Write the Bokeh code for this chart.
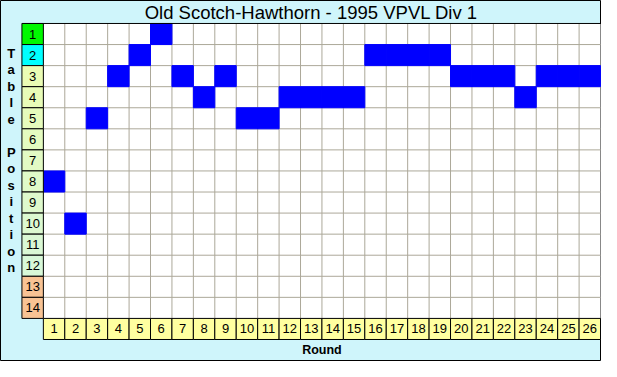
from bokeh.plotting import figure
from bokeh.models import Range1d
from bokeh.core.properties import value
from bokeh.embed import file_html
from bokeh.resources import INLINE

# ---- data ----
title_text = "Old Scotch-Hawthorn - 1995 VPVL Div 1"
y_label = "Table Position"
x_label = "Round"
rounds = list(range(1, 27))
positions = [8, 10, 5, 3, 2, 1, 3, 4, 3, 5, 5, 4, 4, 4, 4, 2, 2, 2, 2, 3, 3, 3, 4, 3, 3, 3]
table_positions = list(range(1, 15))
row_label_colors = ["#00f800", "#00ffff",
                    "#eafcb4", "#e8fcb8", "#e6fbbc", "#e4fbc0", "#e2fac4",
                    "#e0fac8", "#def9cc", "#dcf9d0", "#daf8d4", "#d8f8d8",
                    "#f8c394", "#f8c394"]

FONT = "Liberation Sans"

p = figure(width=601, height=361,
           x_range=Range1d(-1.5, 26.545), y_range=Range1d(16.545, -0.591),
           output_backend="svg", toolbar_location=None, min_border=0,
           x_axis_location=None, y_axis_location=None)
p.xgrid.visible = False
p.ygrid.visible = False
p.background_fill_color = "#cff5fb"
p.border_fill_color = "#cff5fb"
p.outline_line_color = "black"
p.outline_line_width = 1

n_r = len(rounds)
n_p = len(table_positions)

# white plotting area
p.quad(left=[0.5], right=[n_r + 0.5], top=[0.5], bottom=[n_p + 0.5],
       fill_color="white", line_color=None)

# grid lines
vx = [r + 0.5 for r in rounds[:-1]]
p.segment(x0=vx, x1=vx, y0=[0.5] * len(vx), y1=[n_p + 0.5] * len(vx),
          line_color="#aca899", line_width=1)
hy = [t + 0.5 for t in table_positions[:-1]]
p.segment(x0=[0.5] * len(hy), x1=[n_r + 0.5] * len(hy), y0=hy, y1=hy,
          line_color="#aca899", line_width=1)

# position cells
p.rect(x=rounds, y=positions, width=1, height=1,
       fill_color="#0000ff", line_color="#0000ff", line_width=1)

# title separator
p.segment(x0=[-0.5], x1=[n_r + 1], y0=[0.5], y1=[0.5], line_color="black", line_width=1)

# row label cells
p.rect(x=[0] * n_p, y=table_positions, width=1, height=1,
       fill_color=row_label_colors, line_color="black", line_width=1)
p.text(x=[0] * n_p, y=table_positions, text=[str(t) for t in table_positions],
       text_align="center", text_baseline="middle",
       text_font=value(FONT), text_font_size="13px", text_color="black")

# round label cells
p.rect(x=rounds, y=[n_p + 1] * n_r, width=1, height=1,
       fill_color="#ffffa0", line_color="black", line_width=1)
p.text(x=rounds, y=[n_p + 1] * n_r, text=[str(r) for r in rounds],
       text_align="center", text_baseline="middle",
       text_font=value(FONT), text_font_size="13px", text_color="black")

# title
p.text(x=[(n_r) / 2.0], y=[-0.045], text=[title_text],
       text_align="center", text_baseline="middle",
       text_font=value(FONT), text_font_size="18.5px", text_color="black")

# x label
p.text(x=[(n_r + 1) / 2.0], y=[16.0], text=[x_label],
       text_align="center", text_baseline="middle",
       text_font=value(FONT), text_font_size="12.5px", text_font_style="bold",
       text_color="black")

# y label, stacked letters
letters = list(y_label)
ly = [0.5 + (55 + 17.23 * i - 24) / 22.0 for i in range(len(letters))]
p.text(x=[-1.0] * len(letters), y=ly, text=letters,
       text_align="center", text_baseline="middle",
       text_font=value(FONT), text_font_size="13px", text_font_style="bold",
       text_color="black")

open("out.html", "w").write(file_html(p, INLINE))
